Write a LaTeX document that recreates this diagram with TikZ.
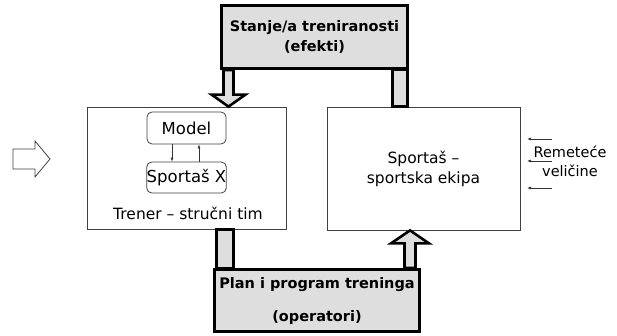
\documentclass[tikz,border=0pt]{standalone}
\usepackage{fontspec}
\setmainfont{DejaVu Sans}
\usetikzlibrary{calc}
\usetikzlibrary{arrows.meta}
\tikzstyle{okvir} = [draw=black!75, line width=0.8pt, inner sep=0pt, align=center]
\tikzstyle{blok} = [draw=black, line width=3pt, fill=black!13, inner sep=0pt, align=center, font=\bfseries\fontsize{14.5}{20}\selectfont]
\tikzstyle{krak} = [draw=black, line width=2.6pt, fill=black!13, line join=miter]
\tikzstyle{zaobljen} = [okvir, rounded corners=5pt, minimum width=79pt, font=\fontsize{16.5}{19}\selectfont]
\tikzstyle{tanka} = [draw=black!80, line width=0.6pt, -{Latex[length=4pt,width=3pt]}]
\tikzset{every node/.append style={text=black}}

\begin{document}
\begin{tikzpicture}[x=1pt, y=-1pt]
  \useasboundingbox (0,0) rectangle (617,336);
  % Main boxes
  \node[okvir, minimum width=199pt, minimum height=122pt] (trener) at (186.5,168) {};
  \node[okvir, minimum width=193pt, minimum height=123pt, font=\fontsize{15.5}{20}\selectfont] (ekipa) at (423.5,168.5) {Sportaš –\\sportska ekipa};
  \node[font=\fontsize{15.5}{20}\selectfont] (trenerTekst) at (188,213) {Trener – stručni tim};
  % Model and athlete
  \node[zaobljen, minimum height=32pt] (model) at (186.5,128) {Model};
  \node[zaobljen, minimum height=31pt] (sportas) at (186.5,177.5) {Sportaš X};
  \draw[tanka] ($(model.south)+(-14.5,0)$) -- ($(sportas.north)+(-14.5,0)$);
  \draw[tanka] ($(sportas.north)+(12.5,0)$) -- ($(model.south)+(12.5,0)$);
  % Top and bottom blocks
  \node[blok, minimum width=186pt, minimum height=63pt] (stanje) at (314.5,37) {Stanje/a treniranosti\\(efekti)};
  \node[blok, minimum width=205pt, minimum height=62pt] (plan) at (317,300.5) {Plan i program treninga\\[13pt](operatori)};
  % Legs
  \coordinate (gl) at (228.5,0);
  \coordinate (gd) at (400,0);
  \coordinate (dl) at (225,0);
  \coordinate (dd) at (410,0);
  \draw[krak] ($(gl |- stanje.south)+(-5,0)$) -- ($(gl |- trener.north)+(-5,-12)$) -- ($(gl |- trener.north)+(-17,-12)$) -- (gl |- trener.north) -- ($(gl |- trener.north)+(17,-12)$) -- ($(gl |- trener.north)+(5,-12)$) -- ($(gl |- stanje.south)+(5,0)$) -- cycle;
  \draw[krak] ($(gd |- stanje.south)+(-7.5,0)$) rectangle ($(gd |- ekipa.north)+(7.5,0)$);
  \draw[krak] ($(dl |- trener.south)+(-8.5,0)$) rectangle ($(dl |- plan.north)+(8.5,0)$);
  \draw[krak] ($(dd |- plan.north)+(-5.5,0)$) -- ($(dd |- ekipa.south)+(-5.5,13)$) -- ($(dd |- ekipa.south)+(-19,13)$) -- (dd |- ekipa.south) -- ($(dd |- ekipa.south)+(19,13)$) -- ($(dd |- ekipa.south)+(5.5,13)$) -- ($(dd |- plan.north)+(5.5,0)$) -- cycle;
  % Input arrow
  \draw[draw=black!75, line width=0.8pt] (13,149) -- (35,149) -- (35,141) -- (50,159) -- (35,177) -- (35,169) -- (13,169) -- cycle;
  % Disturbances
  \foreach \y in {139,161,188} {
    \coordinate (r\y) at (552,\y);
    \draw[tanka] (r\y) -- ++(-25,0);
  }
  \node[font=\fontsize{14.5}{19}\selectfont, align=center] (remetece) at (570,161) {Remeteće\\veličine};
\end{tikzpicture}
\end{document}
